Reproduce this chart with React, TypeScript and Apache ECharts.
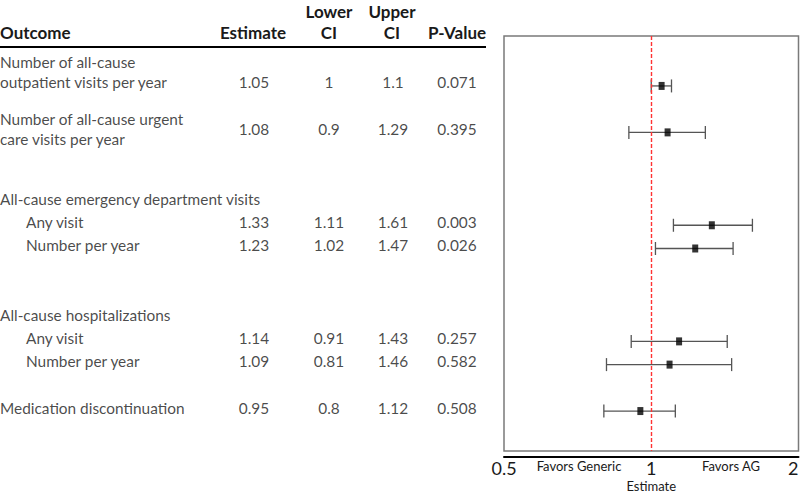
import React, { useEffect, useRef } from "react";
import * as echarts from "echarts";

// ---- Data ----
const outcomes = [
  "Number of all-cause\noutpatient visits per year",
  "Number of all-cause urgent\ncare visits per year",
  "Any visit",
  "Number per year",
  "Any visit",
  "Number per year",
  "Medication discontinuation",
];
const groupHeaders = ["All-cause emergency department visits", "All-cause hospitalizations"];
const estimates = [1.05, 1.08, 1.33, 1.23, 1.14, 1.09, 0.95];
const lowerCI = [1, 0.9, 1.11, 1.02, 0.91, 0.81, 0.8];
const upperCI = [1.1, 1.29, 1.61, 1.47, 1.43, 1.46, 1.12];
const pValues = ["0.071", "0.395", "0.003", "0.026", "0.257", "0.582", "0.508"];
const xTicks = [0.5, 1, 2];
const referenceValue = 1;

// ---- Layout (row slots, not data) ----
const rowSlots = [2, 4, 8, 9, 13, 14, 16];
const groupSlots = [7, 12];
const indented = [false, false, true, true, true, true, false];
const Y_MIN = -0.15;
const Y_MAX = 17.72;
const FONT = "Lato, 'Open Sans', sans-serif";
const TXT = "#1a1a1a";

const colX = { outcome: 0, indent: 26, est: 254, lo: 329, hi: 393, p: 457 };

export default function App() {
  const ref = useRef<HTMLDivElement>(null);
  useEffect(() => {
    if (!ref.current) return;
    const chart = echarts.init(ref.current, undefined, { renderer: "svg" });

    const textLabel = (extra: any = {}) => ({
      show: true,
      position: "inside",
      fontFamily: FONT,
      fontSize: 15.4,
      color: TXT,
      offset: [0, -3.5],
      ...extra,
    });

    const outcomeData = outcomes.map((name, i) => ({
      value: [indented[i] ? colX.indent : colX.outcome, rowSlots[i]],
      label: textLabel({
        formatter: name,
        align: "left",
        verticalAlign: i === 0 ? "bottom" : "middle",
        lineHeight: 20,
        offset: i === 0 ? [0, 6.5] : [0, -3.5],
      }),
    }));
    const groupData = groupHeaders.map((name, i) => ({
      value: [colX.outcome, groupSlots[i]],
      label: textLabel({ formatter: name, align: "left", verticalAlign: "middle" }),
    }));
    const colSeries = (x: number, vals: (number | string)[]) => ({
      type: "scatter",
      xAxisIndex: 1,
      yAxisIndex: 1,
      symbolSize: 0,
      silent: true,
      data: vals.map((v, i) => ({
        value: [x, rowSlots[i]],
        label: textLabel({ formatter: String(v), align: "center", verticalAlign: "middle" }),
      })),
    });

    const HB = `bold 17px ${FONT}`;
    const option: any = {
      animation: false,
      backgroundColor: "#ffffff",
      textStyle: { fontFamily: FONT },
      grid: [
        {
          left: 504,
          right: 1.5,
          top: 36,
          bottom: 40,
          show: true,
          borderColor: "#7a7a7a",
          borderWidth: 1.5,
          backgroundColor: "transparent",
          outerBoundsMode: "none",
          containLabel: false,
        },
        { left: 0, width: 490, top: 36, bottom: 40, outerBoundsMode: "none", containLabel: false },
      ],
      xAxis: [
        {
          type: "log",
          logBase: 2,
          min: xTicks[0],
          max: xTicks[xTicks.length - 1],
          gridIndex: 0,
          position: "bottom",
          offset: 6,
          axisLine: { show: true, onZero: false, lineStyle: { color: "#000", width: 2 } },
          axisTick: { show: false },
          splitLine: { show: false },
          axisLabel: {
            fontFamily: FONT,
            fontSize: 18,
            lineHeight: 15,
            color: TXT,
            margin: 3,
            alignMaxLabel: "right",
            formatter: (v: number) => String(v),
          },
          name: "Estimate",
          nameLocation: "middle",
          nameGap: 22,
          nameMoveOverlap: false,
          nameTextStyle: { fontFamily: FONT, fontSize: 13, lineHeight: 13, color: TXT },
        },
        { type: "value", gridIndex: 1, min: 0, max: 490, show: false },
      ],
      yAxis: [
        { type: "value", inverse: true, min: Y_MIN, max: Y_MAX, gridIndex: 0, show: false },
        { type: "value", inverse: true, min: Y_MIN, max: Y_MAX, gridIndex: 1, show: false },
      ],
      graphic: [
        { type: "text", x: 0, y: 32, style: { text: "Outcome", font: HB, fill: TXT, align: "left", verticalAlign: "middle" } },
        { type: "text", x: 253, y: 32, style: { text: "Estimate", font: HB, fill: TXT, align: "center", verticalAlign: "middle" } },
        { type: "text", x: 329, y: 21.5, style: { text: "Lower\nCI", font: HB, fill: TXT, align: "center", verticalAlign: "middle", lineHeight: 21 } },
        { type: "text", x: 392, y: 21.5, style: { text: "Upper\nCI", font: HB, fill: TXT, align: "center", verticalAlign: "middle", lineHeight: 21 } },
        { type: "text", x: 457, y: 32, style: { text: "P-Value", font: HB, fill: TXT, align: "center", verticalAlign: "middle" } },
        { type: "line", shape: { x1: 0, y1: 47, x2: 486, y2: 47 }, style: { stroke: "#000", lineWidth: 2 } },
        { type: "text", x: 579, y: 466, style: { text: "Favors Generic", font: `13px ${FONT}`, fill: TXT, align: "center", verticalAlign: "middle" } },
        { type: "text", x: 731, y: 466, style: { text: "Favors AG", font: `13px ${FONT}`, fill: TXT, align: "center", verticalAlign: "middle" } },
      ],
      series: [
        {
          type: "custom",
          xAxisIndex: 0,
          yAxisIndex: 0,
          silent: true,
          encode: { x: [0, 1], y: 2 },
          data: lowerCI.map((lo, i) => [lo, upperCI[i], rowSlots[i]]),
          renderItem: (params: any, api: any) => {
            const y = api.value(2);
            const a = api.coord([api.value(0), y]);
            const b = api.coord([api.value(1), y]);
            const h = 6.5;
            const st = { stroke: "#555", lineWidth: 1.3 };
            return {
              type: "group",
              children: [
                { type: "line", shape: { x1: a[0], y1: a[1], x2: b[0], y2: b[1] }, style: st },
                { type: "line", shape: { x1: a[0], y1: a[1] - h, x2: a[0], y2: a[1] + h }, style: st },
                { type: "line", shape: { x1: b[0], y1: b[1] - h, x2: b[0], y2: b[1] + h }, style: st },
              ],
            };
          },
          z: 2,
        },
        {
          type: "scatter",
          xAxisIndex: 0,
          yAxisIndex: 0,
          symbol: "rect",
          symbolSize: [6, 8],
          itemStyle: { color: "#000" },
          data: estimates.map((e, i) => [e, rowSlots[i]]),
          z: 3,
        },
        {
          type: "line",
          xAxisIndex: 0,
          yAxisIndex: 0,
          silent: true,
          symbol: "none",
          data: [],
          markLine: {
            silent: true,
            symbol: "none",
            label: { show: false },
            lineStyle: { color: "#ff3333", type: [4, 2], width: 1.4, opacity: 1 },
            data: [{ xAxis: referenceValue }],
          },
          z: 1,
        },
        { type: "scatter", xAxisIndex: 1, yAxisIndex: 1, symbolSize: 0, silent: true, data: outcomeData },
        { type: "scatter", xAxisIndex: 1, yAxisIndex: 1, symbolSize: 0, silent: true, data: groupData },
        colSeries(colX.est, estimates),
        colSeries(colX.lo, lowerCI),
        colSeries(colX.hi, upperCI),
        colSeries(colX.p, pValues),
      ],
    };
    chart.setOption(option);
    return () => chart.dispose();
  }, []);
  return (
    <div
      ref={ref}
      style={{ position: "fixed", left: 0, top: 0, width: 800, height: 491, background: "#fff" }}
    />
  );
}
